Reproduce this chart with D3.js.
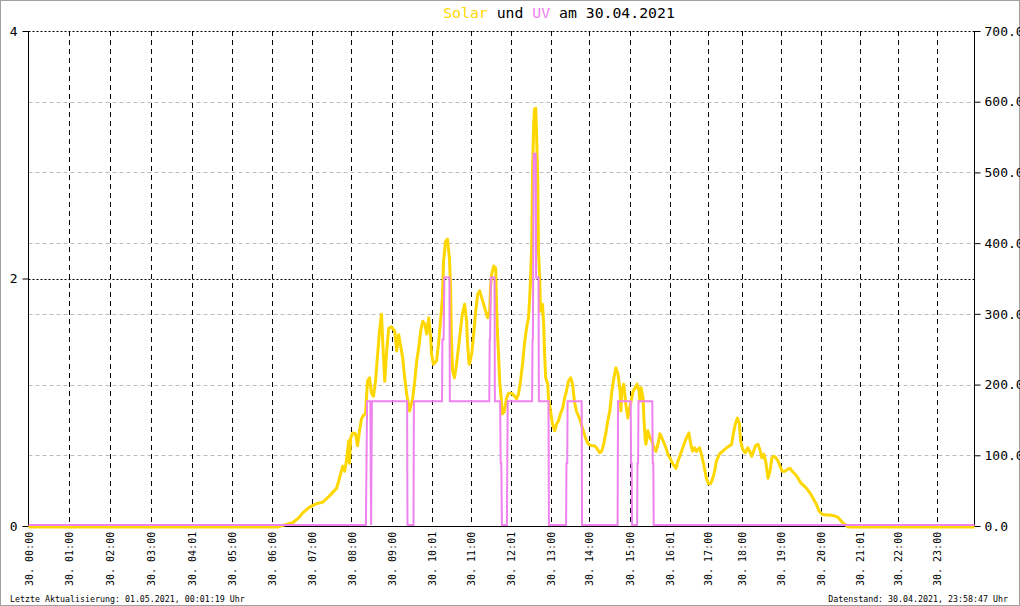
<!DOCTYPE html>
<html><head><meta charset="utf-8">
<script src="https://cdn.jsdelivr.net/npm/d3@7"></script>
<style>
body{margin:0;background:#fff}
svg{display:block}
text{font-family:"DejaVu Sans Mono","Liberation Mono",monospace}
</style>
</head><body>
<svg id="chart" width="1020" height="606"></svg>
<script>
// ---------- data ----------
const hourTicks = d3.range(24);
const hourLabels = ["30. 00:00","30. 01:00","30. 02:00","30. 03:00","30. 04:01","30. 05:00",
  "30. 06:00","30. 07:00","30. 08:00","30. 09:00","30. 10:01","30. 11:00","30. 12:01",
  "30. 13:00","30. 14:00","30. 15:00","30. 16:01","30. 17:00","30. 18:00","30. 19:00",
  "30. 20:00","30. 21:01","30. 22:00","30. 23:00"];
// number of records logged in each hour (the x axis runs by record)
const recordsPerHour = [40,41,41,41,40,40,40,40,40,40,39,40,40,38,41,40,38,34,39,40,39,38,39,38];
const uvTicks = [0,2,4];
const uvGrid = [2,4];
const solarTicks = [0,100,200,300,400,500,600,700];
const solarGrid = [100,200,300,400,500,600];
// [hour, W/m²]
const solarSeries = [[0,0],[6.15,0],[6.33,3],[6.53,6],[6.70,14],[6.78,20],[6.95,28],[7.13,33],[7.28,35],
 [7.45,44],[7.63,55],[7.70,69],[7.78,86],[7.83,79],[7.88,96],[7.93,122],[7.95,90],[7.98,126],[8.03,133],
 [8.10,132],[8.15,115],[8.20,136],[8.25,153],[8.30,158],[8.35,160],[8.40,206],[8.45,211],[8.50,189],
 [8.55,185],[8.60,206],[8.65,242],[8.70,277],[8.75,301],[8.78,263],[8.83,206],[8.88,249],[8.93,281],
 [9.00,283],[9.08,277],[9.13,249],[9.18,272],[9.23,256],[9.28,239],[9.33,211],[9.38,188],[9.45,164],
 [9.53,182],[9.58,206],[9.63,235],[9.68,253],[9.73,277],[9.78,291],[9.83,287],[9.88,273],[9.93,296],
 [9.98,267],[10.00,245],[10.05,230],[10.13,235],[10.18,259],[10.23,291],[10.28,324],[10.31,376],
 [10.36,404],[10.41,407],[10.46,380],[10.49,338],[10.51,267],[10.54,221],[10.59,211],[10.64,230],
 [10.69,253],[10.74,277],[10.79,301],[10.85,315],[10.90,291],[10.92,263],[10.95,239],[10.97,230],
 [11.03,245],[11.08,273],[11.13,305],[11.18,329],[11.23,334],[11.28,324],[11.33,315],[11.38,305],
 [11.43,296],[11.48,305],[11.50,338],[11.53,358],[11.58,369],[11.63,366],[11.65,315],[11.68,267],
 [11.70,245],[11.73,206],[11.78,174],[11.80,160],[11.85,164],[11.90,182],[11.95,189],[12.03,189],
 [12.10,185],[12.15,181],[12.20,188],[12.25,206],[12.30,230],[12.35,259],[12.40,281],[12.45,296],
 [12.48,324],[12.50,348],[12.53,397],[12.55,499],[12.58,570],[12.60,591],[12.63,592],[12.65,560],
 [12.68,494],[12.70,390],[12.73,352],[12.75,305],[12.80,315],[12.83,287],[12.85,249],[12.88,211],
 [12.93,202],[12.95,182],[13.00,164],[13.05,146],[13.11,136],[13.16,146],[13.21,150],[13.26,160],
 [13.32,168],[13.37,182],[13.42,192],[13.47,206],[13.53,211],[13.58,202],[13.63,178],[13.68,164],
 [13.76,154],[13.84,140],[13.92,126],[14.00,117],[14.07,115],[14.15,115],[14.22,110],[14.27,105],
 [14.32,107],[14.37,117],[14.42,132],[14.47,150],[14.52,164],[14.57,192],[14.62,211],[14.67,225],
 [14.72,216],[14.77,192],[14.79,164],[14.81,192],[14.86,202],[14.91,174],[14.96,154],[14.99,164],
 [15.04,178],[15.09,192],[15.14,197],[15.19,202],[15.24,192],[15.26,178],[15.29,197],[15.34,182],
 [15.36,154],[15.39,126],[15.41,117],[15.46,136],[15.51,126],[15.56,122],[15.61,112],[15.66,107],
 [15.71,117],[15.76,132],[15.84,122],[15.91,112],[15.96,103],[16.01,98],[16.09,89],[16.17,83],
 [16.22,93],[16.27,100],[16.35,112],[16.43,124],[16.51,133],[16.56,117],[16.61,107],[16.66,112],
 [16.71,107],[16.79,112],[16.84,103],[16.92,83],[16.97,69],[17.03,61],[17.09,61],[17.15,68],
 [17.21,79],[17.26,93],[17.35,103],[17.44,107],[17.56,112],[17.65,115],[17.71,117],[17.76,132],
 [17.82,146],[17.88,154],[17.94,146],[17.97,122],[18.03,110],[18.10,105],[18.16,112],[18.21,107],
 [18.26,100],[18.31,107],[18.36,115],[18.42,117],[18.47,110],[18.52,98],[18.57,103],[18.62,93],
 [18.68,69],[18.73,79],[18.78,98],[18.83,100],[18.88,98],[18.94,93],[18.99,86],[19.04,79],[19.11,79],
 [19.19,82],[19.24,83],[19.29,79],[19.36,75],[19.44,69],[19.51,62],[19.59,58],[19.66,54],[19.74,48],
 [19.81,41],[19.89,33],[19.96,23],[20.04,18],[20.14,17],[20.24,17],[20.34,16],[20.44,14],[20.49,11],
 [20.57,6],[20.65,3],[20.70,0],[24,0]];
// [hour, UV index]
const uvSeries = [[0,0],[8.36,0],[8.39,1],[8.47,1],[8.49,0],[8.51,1],[9.39,1],[9.40,0],[9.55,0],[9.56,1],
 [10.27,1],[10.28,1.5],[10.31,1.5],[10.33,2],[10.46,2],[10.47,1],[11.47,1],[11.48,1.5],[11.49,1.5],
 [11.51,2],[11.60,2],[11.61,1],[11.74,1],[11.755,0.5],[11.77,0.5],[11.785,0],[11.91,0],[11.93,1],
 [12.54,1],[12.55,1.5],[12.56,1.5],[12.58,3],[12.63,3],[12.64,2],[12.70,2],[12.71,1],[12.95,1],
 [12.96,0],[13.41,0],[13.42,0.5],[13.44,0.5],[13.45,1],[13.82,1],[13.83,0],[14.71,0],[14.72,1],
 [15.03,1],[15.04,0.5],[15.055,0.5],[15.065,0],[15.19,0],[15.20,0.5],[15.215,0.5],[15.225,1],
 [15.57,1],[15.58,0.5],[15.595,0.5],[15.605,0],[24,0]];

// ---------- layout ----------
const W = 1020, H = 606;
const M = {left:28.5, right:974.5, top:31, bottom:526};
const svg = d3.select("#chart");

const cum = [0]; recordsPerHour.forEach(n => cum.push(cum[cum.length-1] + n));
const rec = d3.scaleLinear().domain([0, cum[cum.length-1]]).range([M.left, M.right]);
const x = d3.scaleLinear().domain(d3.range(25)).range(cum.map(rec));
const yUV = d3.scaleLinear().domain([0,4]).range([M.bottom, M.top]);
const ySol = d3.scaleLinear().domain([0,700]).range([M.bottom, M.top]);

// frame
svg.append("rect").attr("x",0.5).attr("y",0.5).attr("width",W-1).attr("height",H-1)
  .attr("fill","#fff").attr("stroke","#a0a0a0");

// horizontal grid (right axis, gray dashed)
svg.append("g").selectAll("line").data(solarGrid).join("line")
  .attr("x1",M.left).attr("x2",M.right)
  .attr("y1",d=>Math.round(ySol(d))+0.5).attr("y2",d=>Math.round(ySol(d))+0.5)
  .attr("stroke","#bdbdbd").attr("stroke-dasharray","4,3");
// horizontal grid (left axis, black dotted)
svg.append("g").selectAll("line").data(uvGrid).join("line")
  .attr("x1",M.left).attr("x2",M.right)
  .attr("y1",d=>Math.round(yUV(d))+0.5).attr("y2",d=>Math.round(yUV(d))+0.5)
  .attr("stroke","#000").attr("stroke-dasharray","2,2");
// vertical grid
svg.append("g").selectAll("line").data(hourTicks.slice(1)).join("line")
  .attr("x1",d=>Math.round(x(d))+0.5).attr("x2",d=>Math.round(x(d))+0.5)
  .attr("y1",M.top).attr("y2",M.bottom)
  .attr("stroke","#000").attr("stroke-dasharray","5,4");

// axes
const axL = d3.axisLeft(yUV).tickValues(uvTicks).tickSize(6).tickPadding(5).tickFormat(d3.format("d"));
const gL = svg.append("g").attr("transform",`translate(${M.left},0)`).call(axL);
const axR = d3.axisRight(ySol).tickValues(solarTicks).tickSize(6).tickPadding(4).tickFormat(d3.format(".1f"));
const gR = svg.append("g").attr("transform",`translate(${M.right},0)`).call(axR);
[gL,gR].forEach(g=>{
  g.select(".domain").attr("stroke","#000");
  g.selectAll(".tick line").attr("stroke","#000");
  g.selectAll("text").attr("font-family","DejaVu Sans Mono").attr("font-size",13).attr("fill","#000");
});
gL.selectAll(".domain").attr("d",`M0,${M.top}V${M.bottom}`);
gR.selectAll(".domain").attr("d",`M0,${M.top}V${M.bottom}`);
svg.append("line").attr("x1",M.left).attr("x2",M.right).attr("y1",M.bottom+0.5).attr("y2",M.bottom+0.5)
  .attr("stroke","#000");

// x labels (vertical)
svg.append("g").selectAll("text").data(hourTicks).join("text")
  .attr("transform",d=>`translate(${x(d)+0.5},586) rotate(-90)`)
  .attr("dy","0.35em").attr("font-size",10).attr("fill","#000")
  .text(d=>hourLabels[d]);

// series
const lineSol = d3.line().x(d=>x(d[0])).y(d=>ySol(d[1]));
svg.append("path").datum(solarSeries).attr("d",lineSol)
  .attr("transform","translate(0,1)")
  .attr("fill","none").attr("stroke","#ffd700").attr("stroke-width",3).attr("stroke-linejoin","round");
const lineUV = d3.line().x(d=>x(d[0])).y(d=>yUV(d[1]));
svg.append("path").datum(uvSeries).attr("d",lineUV)
  .attr("transform","translate(0,-1)")
  .attr("fill","none").attr("stroke","#ee82ee").attr("stroke-width",2);

// title
const t = svg.append("text").attr("x",559).attr("y",18).attr("text-anchor","middle")
  .attr("font-size",14.8).attr("fill","#000");
t.append("tspan").attr("fill","#ffd700").text("Solar");
t.append("tspan").text(" und ");
t.append("tspan").attr("fill","#ee82ee").text("UV");
t.append("tspan").text(" am 30.04.2021");

// footer
svg.append("text").attr("x",10).attr("y",602).attr("font-size",8.3).attr("fill","#000")
  .text("Letzte Aktualisierung: 01.05.2021, 00:01:19 Uhr");
svg.append("text").attr("x",1008).attr("y",602).attr("text-anchor","end").attr("font-size",8.3).attr("fill","#000")
  .text("Datenstand: 30.04.2021, 23:58:47 Uhr");
</script>
</body></html>
